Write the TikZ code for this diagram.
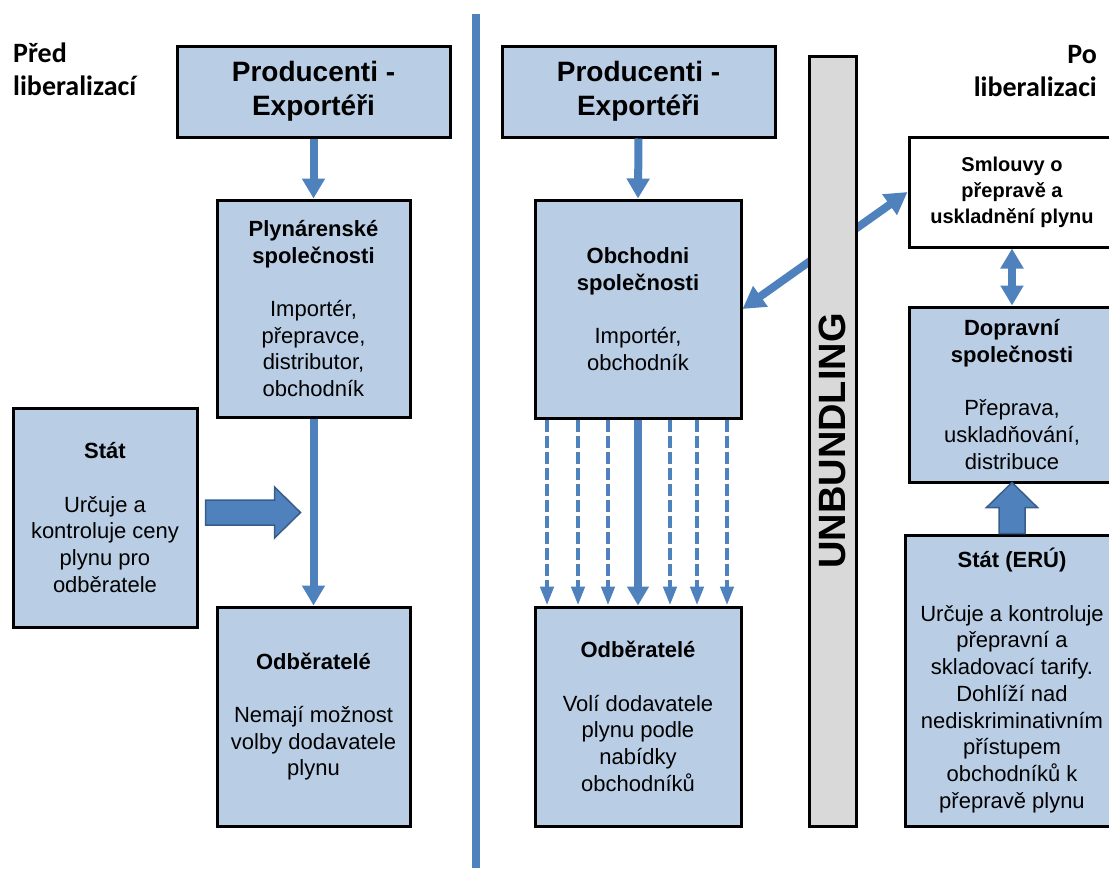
\documentclass[tikz,border=0pt]{standalone}
\usepackage{fontspec}
\setmainfont{Liberation Sans}
\newfontfamily\calib{Carlito}
\usetikzlibrary{arrows.meta}
\definecolor{boxblue}{HTML}{B9CDE5}
\definecolor{arrowblue}{HTML}{4F81BD}
\definecolor{arrowedge}{HTML}{385D8A}
\definecolor{bargray}{HTML}{D9D9D9}
\begin{document}
\begin{tikzpicture}[x=1pt,y=-1pt,
  box/.style={draw=black,line width=3pt,fill=boxblue,align=center,inner sep=0pt,
    font=\fontsize{22}{26.7}\selectfont},
  headbox/.style={box,font=\fontsize{28}{34}\selectfont\bfseries},
  lbl/.style={inner sep=0pt,font=\calib\fontsize{28}{33}\selectfont\bfseries},
  flow/.style={draw=arrowblue,line width=8pt,-{Triangle[width=22pt,length=20pt]}},
  mflow/.style={draw=arrowblue,line width=8pt,-{Triangle[width=21pt,length=19pt]}},
  dflow/.style={draw=arrowblue,line width=4.5pt,dash pattern=on 12pt off 4pt,
    -{Triangle[width=13pt,length=19pt]}},
  dbl/.style={draw=arrowblue,line width=8pt,
    {Triangle[width=24pt,length=22pt]}-{Triangle[width=24pt,length=22pt]}},
  vdbl/.style={draw=arrowblue,line width=8pt,
    {Triangle[width=22pt,length=20pt]}-{Triangle[width=22pt,length=20pt]}},
  blockarrow/.style={fill=arrowblue,draw=arrowedge,line width=1.5pt,line join=miter},
  separator/.style={draw=arrowblue,line width=8pt},
  barbox/.style={draw=black,line width=3pt,fill=bargray,inner sep=0pt,
    font=\fontsize{38}{40}\selectfont\bfseries}
]
\useasboundingbox (0,0) rectangle (1109,868);
\clip (0,0) rectangle (1109,868);

% separator
\draw[separator] (476,14) -- (476,868);

% labels
\node[lbl,anchor=north west,align=left] (lblL) at (13,43) {Před\\liberalizací};
\node[lbl,anchor=north east,align=right] (lblR) at (1097,45) {Po\\liberalizaci};

% left side
\node[headbox,minimum width=273pt,minimum height=91pt] (prL) at (313.5,91.5) {Producenti -\\Exportéři};
\node[box,minimum width=193pt,minimum height=217pt] (plyn) at (313.5,308.5)
  {\textbf{Plynárenské}\\\textbf{společnosti}\\[26.7pt]Importér,\\přepravce,\\distributor,\\obchodník};
\node[box,minimum width=184pt,minimum height=219pt] (statL) at (105,517.5)
  {\textbf{Stát}\\[26.7pt]Určuje a\\kontroluje ceny\\plynu pro\\odběratele};
\node[box,minimum width=193pt,minimum height=219pt] (odbL) at (313.5,716.5)
  {\textbf{Odběratelé}\\[26.7pt]Nemají možnost\\volby dodavatele\\plynu};

\draw[flow] (prL.south) -- (plyn.north);
\draw[flow] (plyn.south) -- (odbL.north);
\draw[blockarrow] ([xshift=7pt,yshift=5pt]statL.east) ++(0,-12.5) -- ++(69,0) -- ++(0,-13)
  -- ++(26,25.5) -- ++(-26,25.5) -- ++(0,-13) -- ++(-69,0) -- cycle;

% right side
\node[headbox,minimum width=273pt,minimum height=91pt] (prR) at (638.5,91.5) {Producenti -\\Exportéři};
\node[box,minimum width=206pt,minimum height=218pt] (obch) at (638,309)
  {\textbf{Obchodni}\\\textbf{společnosti}\\[26.7pt]Importér,\\obchodník};
\node[box,minimum width=206pt,minimum height=219pt] (odbR) at (638,716.5)
  {\textbf{Odběratelé}\\[26.7pt]Volí dodavatele\\plynu podle\\nabídky\\obchodníků};
\node[box,fill=white,minimum width=206pt,minimum height=110pt,
  font=\fontsize{20}{26}\selectfont\bfseries] (sml) at (1012,192)
  {Smlouvy o\\přepravě a\\uskladnění plynu};
\node[box,minimum width=206pt,minimum height=175pt] (dop) at (1012,394.5)
  {\textbf{Dopravní}\\\textbf{společnosti}\\[26.7pt]Přeprava,\\uskladňování,\\distribuce};
\node[box,minimum width=214pt,minimum height=291pt] (stE) at (1012,680.5)
  {\textbf{Stát (ERÚ)}\\[26.7pt]Určuje a kontroluje\\přepravní a\\skladovací tarify.\\Dohlíží nad\\nediskriminativním\\přístupem\\obchodníků k\\přepravě plynu};

\draw[flow] (prR.south) -- (obch.north);
\foreach \dx in {13.5,44.5,74.5,136.5,163.5,193.5}
  \draw[dflow] ([xshift=\dx pt]obch.south west) -- ([xshift=\dx pt]odbR.north west);
\draw[mflow] (obch.south) -- (odbR.north);
\draw[dbl] (obch.east) -- (sml.west);
\draw[vdbl] (sml.south) -- (dop.north);
\draw[blockarrow] (stE.north) ++(-13,0) -- ++(0,-26) -- ++(-12.5,0) -- ++(25.5,-25)
  -- ++(25.5,25) -- ++(-12.5,0) -- ++(0,26) -- cycle;

% unbundling bar (drawn over the diagonal arrow)
\node[barbox,rotate=90,minimum width=770pt,minimum height=47pt] (bar) at (832.5,441) {UNBUNDLING};
\end{tikzpicture}
\end{document}
